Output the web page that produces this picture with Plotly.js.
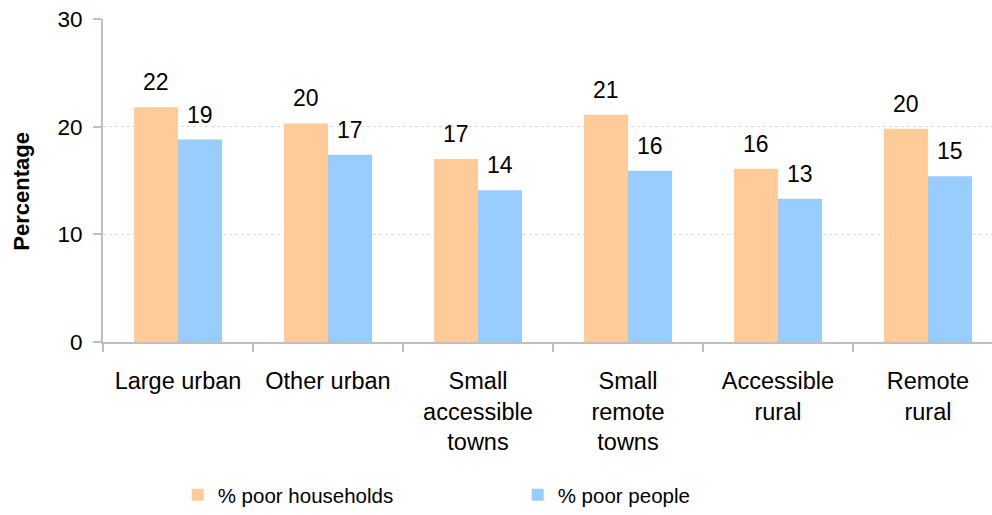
<!DOCTYPE html>
<html>
<head>
<meta charset="utf-8">
<script src="https://cdn.plot.ly/plotly-3.0.1.min.js"></script>
<style>html,body{margin:0;padding:0;background:#fff;overflow:hidden}#chart{width:992px;height:515px}</style>
</head>
<body>
<div id="chart"></div>
<script>
const categories = ["Large urban", "Other urban", "Small<br>accessible<br>towns", "Small<br>remote<br>towns", "Accessible<br>rural", "Remote<br>rural"];
const poorHouseholds = [21.8, 20.3, 17.0, 21.1, 16.1, 19.8];
const poorPeople = [18.8, 17.4, 14.1, 15.9, 13.3, 15.4];
const seriesNames = ["% poor households", "% poor people"];
const yTicks = [0, 10, 20, 30];
const gridTicks = [10, 20];
const yTitle = "Percentage";

const FONT = "Liberation Sans, Arial, sans-serif";
const colors = ["#FFCC99", "#99CCFF"];

const traces = [
  {type: "bar", name: seriesNames[0], x: categories, y: poorHouseholds, marker: {color: colors[0]}, hoverinfo: "none"},
  {type: "bar", name: seriesNames[1], x: categories, y: poorPeople, marker: {color: colors[1]}, hoverinfo: "none"}
];

const annotations = [];
[poorHouseholds, poorPeople].forEach((vals, s) => {
  vals.forEach((v, i) => {
    annotations.push({
      x: categories[i], y: v, xref: "x", yref: "y",
      text: String(Math.round(v)), showarrow: false,
      yanchor: "bottom", xanchor: "center",
      xshift: s === 0 ? -22 : 22, yshift: 10,
      font: {family: FONT, size: 23, color: "#000"}
    });
  });
});
annotations.push({
  xref: "paper", yref: "paper", x: -0.0911, y: 0.4654,
  xanchor: "center", yanchor: "middle", textangle: -90, showarrow: false,
  text: "<b>" + yTitle + "</b>",
  font: {family: FONT, size: 22, color: "#000"}
});

const layout = {
  width: 992, height: 515,
  margin: {l: 103, r: 0, t: 19, b: 170.5},
  paper_bgcolor: "#fff", plot_bgcolor: "#fff",
  font: {family: FONT, size: 22, color: "#000"},
  barmode: "group", bargap: 0.413, bargroupgap: 0,
  showlegend: true,
  legend: {
    orientation: "h", x: 0.084, xanchor: "left", y: -0.475, yanchor: "middle",
    entrywidth: 295, entrywidthmode: "pixels",
    font: {family: FONT, size: 20.5, color: "#000"}, traceorder: "normal"
  },
  xaxis: {
    type: "category", range: [-0.5, 5.427],
    showline: true, linecolor: "#BFBFBF", linewidth: 2,
    ticks: "outside", tickson: "boundaries", ticklen: 8, tickcolor: "#BFBFBF", tickwidth: 2,
    ticklabelstandoff: 17,
    tickfont: {family: FONT, size: 23.5, color: "#000"},
    showgrid: false, zeroline: false, fixedrange: true, tickangle: 0
  },
  yaxis: {
    range: [0, 30], tickvals: yTicks, ticktext: yTicks.map(String),
    showline: true, linecolor: "#BFBFBF", linewidth: 2,
    ticks: "outside", ticklen: 8, tickcolor: "#BFBFBF", tickwidth: 2,
    ticklabelstandoff: 6,
    tickfont: {family: FONT, size: 22.5, color: "#000"},
    showgrid: false, zeroline: false, fixedrange: true
  },
  yaxis2: {
    overlaying: "y", side: "left", range: [0, 30], tickvals: gridTicks,
    showticklabels: false, ticks: "", showline: false, zeroline: false,
    showgrid: true, gridcolor: "#D9D9D9", griddash: "dot", gridwidth: 1, fixedrange: true
  },
  annotations: annotations
};

// invisible helper trace so the grid-only overlay axis is drawn
traces.push({type: "scatter", x: [categories[0]], y: [0], yaxis: "y2", mode: "none", showlegend: false, hoverinfo: "none"});

Plotly.newPlot("chart", traces, layout, {displayModeBar: false, staticPlot: true});
</script>
</body>
</html>
